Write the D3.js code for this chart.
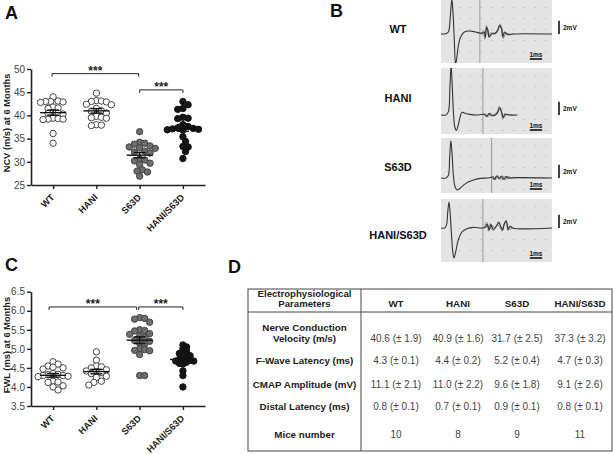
<!DOCTYPE html>
<html>
<head>
<meta charset="utf-8">
<script src="https://cdn.jsdelivr.net/npm/d3@7"></script>
<style>
body { margin: 0; background: #fff; }
svg { display: block; }
</style>
</head>
<body>
<svg id="fig" width="614" height="454"></svg>
<script>
// ---- data ----
const groups = ["WT", "HANI", "S63D", "HANI/S63D"];

// A: nerve conduction velocity (m/s)
const ncvWT = [44.0, 43.1, 43.0, 43.0, 42.9, 42.8, 41.8, 41.6, 41.5, 40.6, 40.5, 40.4, 40.3, 39.4, 39.3, 39.2, 39.2, 39.1, 36.1, 34.0];
const ncvHANI = [44.8, 43.2, 43.1, 43.0, 42.9, 42.4, 42.3, 41.5, 40.5, 41.0, 40.9, 39.8, 39.6, 39.5, 39.4, 38.0, 37.9, 37.8];
const ncvS63D = [36.5, 34.2, 34.0, 33.8, 33.4, 33.2, 33.0, 32.9, 32.3, 32.1, 31.9, 30.6, 30.4, 30.2, 29.7, 29.4, 28.3, 28.0, 27.8, 26.9];
const ncvHANIS63D = [43.0, 42.3, 41.5, 41.3, 39.6, 39.4, 39.3, 38.0, 37.6, 37.3, 37.2, 37.1, 37.0, 36.9, 36.8, 35.4, 34.4, 33.3, 33.2, 32.2, 30.7];
const ncvTicks = [25, 30, 35, 40, 45, 50];

// C: F-wave latency (ms)
const fwlWT = [4.66, 4.6, 4.55, 4.52, 4.5, 4.47, 4.35, 4.33, 4.32, 4.3, 4.3, 4.28, 4.27, 4.15, 4.13, 4.12, 4.03, 4.0, 3.92];
const fwlHANI = [4.92, 4.7, 4.55, 4.53, 4.5, 4.45, 4.42, 4.4, 4.38, 4.35, 4.28, 4.25, 4.15, 4.12, 4.05];
const fwlS63D = [5.82, 5.8, 5.78, 5.7, 5.5, 5.48, 5.47, 5.4, 5.38, 5.33, 5.3, 5.22, 5.2, 5.15, 5.12, 5.0, 4.98, 4.96, 4.95, 4.85, 4.3, 4.3];
const fwlHANIS63D = [5.1, 5.05, 5.0, 4.95, 4.9, 4.88, 4.85, 4.82, 4.8, 4.75, 4.72, 4.7, 4.7, 4.68, 4.68, 4.65, 4.62, 4.6, 4.42, 4.3, 4.0];
const fwlTicks = [3.5, 4.0, 4.5, 5.0, 5.5, 6.0, 6.5];

// significance brackets: [from, to], level in data units
const sigPairs = [["WT", "S63D"], ["S63D", "HANI/S63D"]];
const ncvSigLevels = [49, 45.5];
const fwlSigLevels = [6.1, 6.1];
const sigText = "***";

// B: representative traces, [time ms, amplitude mV]
const traceWT = [[0,0],[0.4,0.05],[0.6,0.3],[0.75,2.5],[0.88,5.2],[0.98,3],[1.08,-1],[1.18,-4.5],[1.28,-3.6],[1.4,-1.8],[1.6,-0.4],[1.9,0.3],[2.3,0.45],[2.8,0.3],[3.3,0.1],[3.5,0.3],[3.6,-0.5],[3.7,1.0],[3.8,0.6],[3.9,-0.4],[4.1,0],[4.4,0.1],[4.6,0.6],[4.75,1.3],[4.9,0.8],[5.0,-0.4],[5.15,0.3],[5.4,-0.1],[5.8,0],[9,0]];
const fwWT1 = [[3.3,0.1],[3.45,0.5],[3.55,-0.8],[3.68,1.3],[3.8,0.2],[3.92,-0.6],[4.1,0.1],[4.5,0.2],[4.65,0.9],[4.8,1.5],[4.95,0.4],[5.05,-0.7],[5.2,0.2],[5.5,-0.1],[5.9,0]];
const fwWT2 = [[3.3,0],[3.5,-0.3],[3.62,0.7],[3.75,0.9],[3.88,-0.3],[4.0,0.2],[4.4,0],[4.6,0.4],[4.78,1.1],[4.92,0.9],[5.08,-0.5],[5.25,0.1],[5.6,0]];

const traceHANI = [[0,0],[0.4,0],[0.6,0.5],[0.72,4],[0.82,7.5],[0.92,4],[1.02,0],[1.12,-1.8],[1.25,-2.3],[1.4,-1.5],[1.55,-0.3],[1.7,0.4],[1.9,0.3],[2.3,0.1],[3.0,0],[3.5,0.1],[3.7,-0.2],[3.9,0.2],[4.1,-0.1],[4.4,0],[4.6,0.4],[4.75,1.1],[4.9,0.5],[5.05,-0.4],[5.2,0.1],[5.5,0],[6.2,0]];
const fwHANI1 = [[3.4,0],[3.6,0.2],[3.8,-0.3],[4.0,0.2],[4.3,-0.1],[4.55,0.3],[4.7,1.3],[4.85,0.8],[5.0,-0.6],[5.15,0.2],[5.4,0]];
const fwHANI2 = [[3.5,0],[3.75,-0.2],[3.95,0.3],[4.2,0],[4.6,0.6],[4.8,1.0],[4.95,0.2],[5.1,-0.3],[5.4,0.1],[5.8,0]];

const traceS63D = [[0,0],[0.4,0],[0.6,0.4],[0.7,3],[0.8,5.6],[0.9,3.5],[1.0,0.5],[1.12,-1.2],[1.3,-1.8],[1.5,-1.6],[1.8,-1.1],[2.2,-0.6],[2.7,-0.25],[3.2,-0.05],[3.8,0],[4.2,0.15],[4.35,-0.2],[4.5,0.3],[4.7,-0.1],[4.9,0.25],[5.1,-0.2],[5.3,0.2],[5.5,0],[6,0.05],[9,0]];
const fwS63D1 = [[4.0,0],[4.2,0.3],[4.4,-0.3],[4.6,0.4],[4.8,-0.2],[5.0,0.35],[5.25,-0.3],[5.45,0.25],[5.7,0]];
const fwS63D2 = [[4.1,0],[4.3,-0.2],[4.5,0.25],[4.75,0.1],[4.95,-0.3],[5.2,0.3],[5.4,-0.1],[5.8,0.1],[6.2,0]];

const traceHANIS63D = [[0,0],[0.3,0],[0.45,0.5],[0.55,2.5],[0.65,3.9],[0.75,2],[0.85,-1],[0.95,-3.5],[1.05,-4.5],[1.2,-3.5],[1.4,-1.8],[1.7,-0.6],[2.1,-0.1],[2.6,0.1],[3.3,0],[3.6,0.1],[3.75,0.6],[3.9,-0.3],[4.05,0.5],[4.25,-0.2],[4.45,0.2],[4.7,0.8],[4.85,0.2],[5.0,-0.3],[5.15,0.7],[5.3,1.0],[5.45,-0.2],[5.6,0.3],[5.8,0],[9,0]];
const fwHANIS63D1 = [[3.5,0],[3.7,0.9],[3.85,-0.5],[4.0,0.7],[4.2,-0.4],[4.5,0.3],[4.65,1.0],[4.8,0.4],[4.95,-0.5],[5.1,0.5],[5.28,1.2],[5.42,-0.4],[5.6,0.2],[5.9,0]];
const fwHANIS63D2 = [[3.6,0],[3.8,0.4],[3.95,-0.2],[4.15,0.4],[4.35,0],[4.6,0.5],[4.9,-0.2],[5.2,0.8],[5.35,0.5],[5.5,-0.2],[5.8,0]];

const latencyMarks = [3.15, 3.4, 4.1, 3.4]; // ms
const scaleBarMv = 2;
const scaleBarMs = 1;

// D: table
const rowLabels = [["Nerve Conduction", "Velocity (m/s)"], ["F-Wave Latency (ms)"], ["CMAP Amplitude (mV)"], ["Distal Latency (ms)"], ["Mice number"]];
const ncvMean = [40.6, 40.9, 31.7, 37.3], ncvSd = [1.9, 1.6, 2.5, 3.2];
const fwlMean = [4.3, 4.4, 5.2, 4.7], fwlSd = [0.1, 0.2, 0.4, 0.3];
const cmapMean = [11.1, 11.0, 9.6, 9.1], cmapSd = [2.1, 2.2, 1.8, 2.6];
const dlMean = [0.8, 0.7, 0.9, 0.8], dlSd = [0.1, 0.1, 0.1, 0.1];
const miceNumber = [10, 8, 9, 11];

// ---- drawing ----
const FONT = "'Liberation Sans', Arial, Helvetica, sans-serif";
const svg = d3.select("#fig").attr("font-family", FONT);

// panel letters
[["A", 5, 19], ["B", 330, 17], ["C", 5, 271], ["D", 228, 273]].forEach(([t, x, y]) => {
  svg.append("text").attr("x", x).attr("y", y).attr("font-size", 18).attr("font-weight", "bold").attr("fill", "#111").text(t);
});

// packed scatter: points may overlap a little, like the GraphPad plot
function swarm(values, cx, y, minDist) {
  const placed = [];
  values.slice().sort((a, b) => b - a).forEach(v => {
    const py = y(v);
    let px = cx;
    for (let k = 0; k < 60; k++) {
      const off = k === 0 ? 0 : (k % 2 ? 1 : -1) * Math.ceil(k / 2) * minDist * 0.5;
      const cand = cx + off;
      if (placed.every(p => (p.x - cand) ** 2 + (p.y - py) ** 2 >= minDist ** 2)) { px = cand; break; }
    }
    placed.push({ x: px, y: py, v });
  });
  return placed;
}

const fills = ["#fff", "#fff", "#6e6e6e", "#151515"];

function scatterPanel(cfg) {
  const g = svg.append("g");
  const x = d3.scalePoint().domain(groups).range([31, 205]).padding(0.51);
  const y = d3.scaleLinear().domain(cfg.domain).range(cfg.range);
  const axisY = y(cfg.domain[0]);

  // points
  cfg.series.forEach((vals, i) => {
    const pts = swarm(vals, x(groups[i]), y, cfg.minDist[i]);
    g.append("g").selectAll("circle").data(pts).join("circle")
      .attr("cx", d => d.x).attr("cy", d => d.y).attr("r", 3.2)
      .attr("fill", fills[i]).attr("stroke", i === 3 ? "#111" : "#444").attr("stroke-width", 1);
    const m = d3.mean(vals), sem = d3.deviation(vals) / Math.sqrt(vals.length);
    const cx = x(groups[i]);
    const eg = g.append("g").attr("stroke", "#111").attr("stroke-width", 1.4);
    eg.append("line").attr("x1", cx - 13).attr("x2", cx + 13).attr("y1", y(m)).attr("y2", y(m));
    eg.append("line").attr("x1", cx).attr("x2", cx).attr("y1", y(m - sem)).attr("y2", y(m + sem));
    [m - sem, m + sem].forEach(v => eg.append("line").attr("x1", cx - 6).attr("x2", cx + 6).attr("y1", y(v)).attr("y2", y(v)));
  });

  // axes
  const ya = g.append("g").attr("transform", "translate(31,0)")
    .call(d3.axisLeft(y).tickValues(cfg.ticks).tickFormat(d3.format(cfg.fmt)).tickSize(4).tickSizeOuter(0).tickPadding(2));
  const xa = g.append("g").attr("transform", `translate(0,${axisY})`)
    .call(d3.axisBottom(x).tickSize(4).tickSizeOuter(0));
  [ya, xa].forEach(a => {
    a.attr("font-family", FONT);
    a.select(".domain").attr("stroke", "#222").attr("stroke-width", 1.6);
    a.selectAll(".tick line").attr("stroke", "#222").attr("stroke-width", 1.4);
  });
  ya.selectAll(".tick text").attr("font-size", 10).attr("fill", "#444");
  xa.selectAll(".tick text").remove();
  g.append("g").selectAll("text").data(groups).join("text")
    .attr("transform", d => `translate(${x(d) + 2},${axisY + 13}) rotate(-45)`)
    .attr("text-anchor", "end").attr("font-size", 9.3).attr("font-weight", "bold").attr("fill", "#222")
    .text(d => d);

  // y title
  g.append("text").attr("transform", `translate(10,${cfg.titleY}) rotate(-90)`)
    .attr("text-anchor", "middle").attr("font-size", 9.3).attr("font-weight", "bold").attr("fill", "#222")
    .text(cfg.title);

  // brackets
  sigPairs.forEach((p, i) => {
    const x1 = x(p[0]) + cfg.inset[i][0], x2 = x(p[1]) + cfg.inset[i][1], by = y(cfg.sig[i]);
    g.append("path").attr("d", `M${x1},${by + 3}V${by}H${x2}V${by + 3}`)
      .attr("fill", "none").attr("stroke", "#222").attr("stroke-width", 1);
    g.append("text").attr("x", (x1 + x2) / 2).attr("y", by + 1.5).attr("text-anchor", "middle")
      .attr("font-size", 12).attr("font-weight", "bold").attr("fill", "#222").text(sigText);
  });
}

scatterPanel({
  series: [ncvWT, ncvHANI, ncvS63D, ncvHANIS63D], domain: [25, 50], range: [185, 69],
  ticks: ncvTicks, fmt: "d", title: "NCV (m/s) at 6 Months", titleY: 123,
  sig: ncvSigLevels, inset: [[-1, -1], [0, 0]], minDist: [5, 5, 5.2, 5.2]
});
scatterPanel({
  series: [fwlWT, fwlHANI, fwlS63D, fwlHANIS63D], domain: [3.5, 6.5], range: [406, 291.7],
  ticks: fwlTicks, fmt: ".1f", title: "FWL (ms) at 6 Months", titleY: 345,
  sig: fwlSigLevels, inset: [[-4, -3], [-1, 0]], minDist: [5, 5, 5, 3.6]
});

// ---- B: traces ----
const tx = d3.scaleLinear().domain([0, 9]).range([441, 552]);
const boxes = [
  { name: "WT", trace: traceWT, over: [fwWT1, fwWT2], top: 0, bottom: 63, lo: -4.35, hi: 5.1, labelY: 33 },
  { name: "HANI", trace: traceHANI, over: [fwHANI1, fwHANI2], top: 68, bottom: 134, lo: -2.85, hi: 7.05, labelY: 102 },
  { name: "S63D", trace: traceS63D, over: [fwS63D1, fwS63D2], top: 138, bottom: 193, lo: -2.25, hi: 6.0, labelY: 171 },
  { name: "HANI/S63D", trace: traceHANIS63D, over: [fwHANIS63D1, fwHANIS63D2], top: 199, bottom: 262, lo: -5.1, hi: 4.35, labelY: 239 }
];
const line = d3.line().curve(d3.curveCatmullRom.alpha(0.5));

boxes.forEach((b, i) => {
  const y = d3.scaleLinear().domain([b.lo, b.hi]).range([b.bottom, b.top]);
  const g = svg.append("g");
  const [x0, x1] = tx.range();
  g.append("clipPath").attr("id", "clip" + i).append("rect")
    .attr("x", x0).attr("y", b.top).attr("width", x1 - x0).attr("height", b.bottom - b.top);
  g.append("rect").attr("x", x0).attr("y", b.top).attr("width", x1 - x0).attr("height", b.bottom - b.top).attr("fill", "#e4e4e4");
  const dots = [];
  for (let px = x0 + 18; px < x1 - 2; px += 10.8)
    for (let py = b.top + 7; py < b.bottom - 2; py += 11) dots.push([px, py]);
  g.append("g").selectAll("rect").data(dots).join("rect")
    .attr("x", d => d[0]).attr("y", d => d[1]).attr("width", 1).attr("height", 1).attr("fill", "#a8a8a8");

  const inner = g.append("g").attr("clip-path", `url(#clip${i})`);
  inner.append("line").attr("x1", tx(latencyMarks[i])).attr("x2", tx(latencyMarks[i]))
    .attr("y1", b.top).attr("y2", b.bottom).attr("stroke", "#9a9a9a").attr("stroke-width", 1);
  b.over.forEach(o => inner.append("path").attr("d", line(o.map(d => [tx(d[0]), y(d[1])])))
    .attr("fill", "none").attr("stroke", "#808080").attr("stroke-width", 0.8));
  inner.append("path").attr("d", line(b.trace.map(d => [tx(d[0]), y(d[1])])))
    .attr("fill", "none").attr("stroke", "#333").attr("stroke-width", 1.1);

  // 1 ms bar
  const barY = b.bottom - 4;
  g.append("line").attr("x1", tx(7.2)).attr("x2", tx(7.2 + scaleBarMs)).attr("y1", barY).attr("y2", barY)
    .attr("stroke", "#111").attr("stroke-width", 1.6);
  g.append("text").attr("x", (tx(7.2) + tx(7.2 + scaleBarMs)) / 2).attr("y", barY - 2).attr("text-anchor", "middle")
    .attr("font-size", 6.5).attr("font-weight", "bold").attr("fill", "#111").text("1ms");
  // 2 mV bar
  g.append("line").attr("x1", 559).attr("x2", 559).attr("y1", y(0)).attr("y2", y(scaleBarMv))
    .attr("stroke", "#111").attr("stroke-width", 1.6);
  g.append("text").attr("x", 563).attr("y", (y(0) + y(scaleBarMv)) / 2 + 2.3)
    .attr("font-size", 6.5).attr("font-weight", "bold").attr("fill", "#111").text("2mV");
  // genotype label
  svg.append("text").attr("x", 398).attr("y", b.labelY).attr("text-anchor", "middle")
    .attr("font-size", 11).attr("font-weight", "bold").attr("fill", "#111").text(b.name);
});

// ---- D: table ----
const tbl = svg.append("g");
const tL = 248, tR = 612, tT = 289, tB = 451, divX = 361, hdrY = 312;
tbl.append("rect").attr("x", tL).attr("y", tT).attr("width", tR - tL).attr("height", tB - tT)
  .attr("fill", "none").attr("stroke", "#444").attr("stroke-width", 1);
tbl.append("line").attr("x1", divX).attr("x2", divX).attr("y1", tT).attr("y2", tB).attr("stroke", "#444");
tbl.append("line").attr("x1", tL).attr("x2", tR).attr("y1", hdrY).attr("y2", hdrY).attr("stroke", "#444");

const labelX = 304.5;
const colX = [396, 458, 517, 580];
const rowY = [341.5, 364, 388, 410, 438];
const fmt1 = d3.format(".1f");
const cell = (m, s) => `${fmt1(m)} (\u00b1 ${fmt1(s)})`;
const rowsVals = [
  ncvMean.map((m, j) => cell(m, ncvSd[j])),
  fwlMean.map((m, j) => cell(m, fwlSd[j])),
  cmapMean.map((m, j) => cell(m, cmapSd[j])),
  dlMean.map((m, j) => cell(m, dlSd[j])),
  miceNumber.map(String)
];

// header
tbl.append("text").attr("x", labelX).attr("y", 296.5).attr("text-anchor", "middle")
  .attr("font-size", 9.6).attr("font-weight", "bold").attr("fill", "#222").text("Electrophysiological");
tbl.append("text").attr("x", labelX).attr("y", 307).attr("text-anchor", "middle")
  .attr("font-size", 9.6).attr("font-weight", "bold").attr("fill", "#222").text("Parameters");
tbl.selectAll("text.hdr").data(groups).join("text").attr("class", "hdr")
  .attr("x", (d, j) => colX[j]).attr("y", 307).attr("text-anchor", "middle")
  .attr("font-size", 9.8).attr("font-weight", "bold").attr("fill", "#222").text(d => d);

rowLabels.forEach((lines, r) => {
  lines.forEach((t, k) => {
    tbl.append("text").attr("x", labelX).attr("y", rowY[r] - (lines.length - 1 - k) * 10.5)
      .attr("text-anchor", "middle").attr("font-size", 9.8).attr("font-weight", "bold").attr("fill", "#222").text(t);
  });
  tbl.append("g").selectAll("text").data(rowsVals[r]).join("text")
    .attr("x", (d, j) => colX[j]).attr("y", rowY[r]).attr("text-anchor", "middle")
    .attr("font-size", 10).attr("fill", "#444").text(d => d);
});
</script>
</body>
</html>
